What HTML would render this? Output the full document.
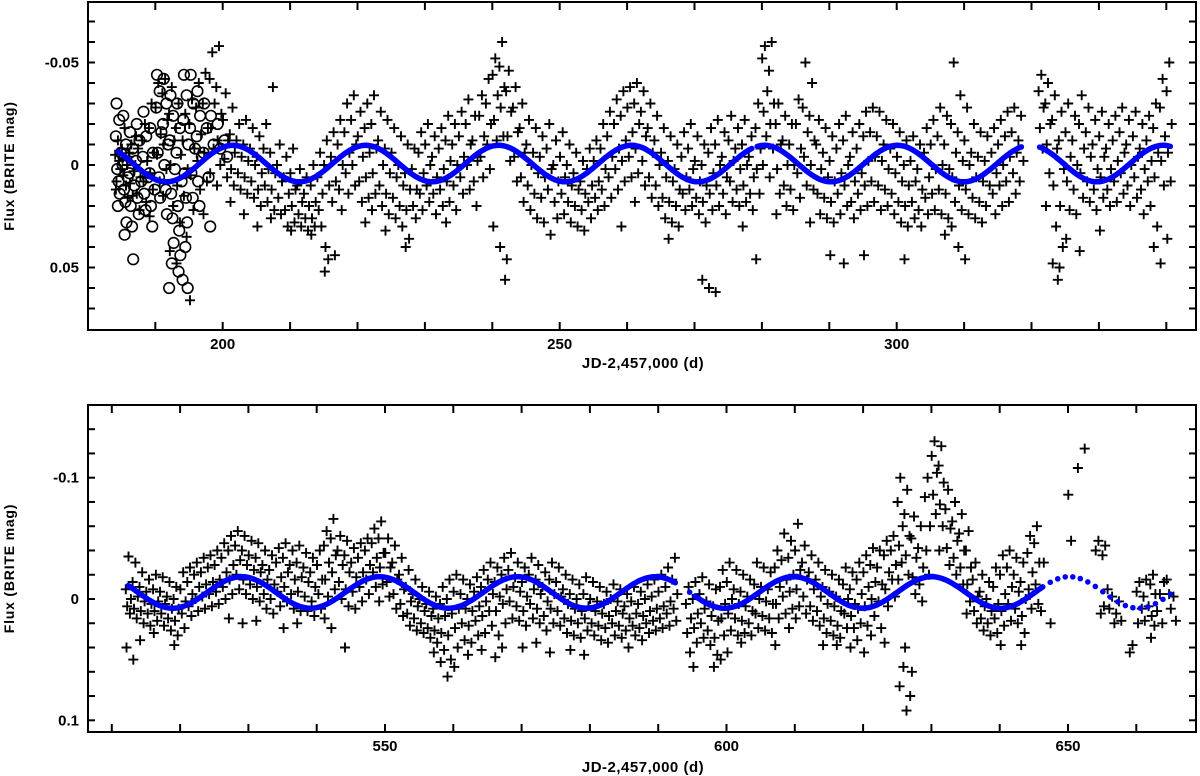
<!DOCTYPE html>
<html><head><meta charset="utf-8"><title>BRITE light curve</title>
<style>
html,body{margin:0;padding:0;background:#fff;}
svg{display:block;}
text{font-family:"Liberation Sans",sans-serif;font-weight:bold;fill:#000;}
</style></head>
<body>
<svg id="chart" width="1200" height="776" viewBox="0 0 1200 776" xmlns="http://www.w3.org/2000/svg">
  <g id="top-panel"></g>
  <g id="bottom-panel"></g>
</svg>
<script>
// ===== Data: top panel (JD-2457000, mag in mmag) =====
const topNightT = [184,185,186,187,188,189,190,191,192,193,194,195,196,197,198,199,200,201,202,203,204,205,206,207,208,209,210,211,212,213,214,215,216,217,218,219,220,221,222,223,224,225,226,227,228,229,230,231,232,233,234,235,236,237,238,239,240,241,242,243,244,245,246,247,248,249,250,251,252,253,254,255,256,257,258,259,260,261,262,263,264,265,266,267,268,269,270,271,272,273,274,275,276,277,278,279,280,281,282,283,284,285,286,287,288,289,290,291,292,293,294,295,296,297,298,299,300,301,302,303,304,305,306,307,308,309,310,311,312,313,314,315,316,317,318,321,322,323,324,325,326,327,328,329,330,331,332,333,334,335,336,337,338,339,340];
const topNightMags = [
[-12,-5,2,8,-2,12],[-18,-8,0,5,10,-3,16],[-10,-4,3,9,15,-6],[-8,0,6,14,22,-14],[-20,-12,-2,8,18],[-30,-18,-6,4,12,25],[-40,-28,-15,-5,8],[-42,-35,-22,-10,2,15],[-38,-25,-12,0,20,42],[-30,-18,-5,10,28,48],
[-25,-12,2,15,35],[-32,-20,-8,5,22,66],[-40,-28,-15,-2,12],[-45,-30,-18,-6,8,24],[-55,-42,-30,-18,-8,4],[-58,-38,-25,-12,0,10],[-35,-22,-12,-3,6],[-28,-15,-6,2,10,18],[-20,-12,-4,4,12],[-22,-10,-2,6,14,24],
[-18,-8,0,8,16],[-14,-4,4,12,20,30],[-20,-8,2,10,18],[-38,-6,4,12,22,26],[-10,0,8,16,24],[-4,6,14,22,30],[-8,4,12,20,28,32],[2,10,18,24,30],[6,14,20,26,32],[0,10,18,26,30,34],
[-6,6,14,22,30],[-12,0,10,40,46,52],[-16,-4,8,18,44],[-22,-10,0,12,22],[-30,-16,-6,4,14],[-34,-22,-10,0,10],[-26,-14,-4,8,18],[-30,-18,-6,6,16,28],[-34,-20,-8,4,14,22],[-26,-12,0,10,20],
[-22,-8,4,14,24,32],[-18,-6,6,16,26],[-14,0,10,20,30],[-10,4,12,22,36,40],[-8,2,12,20,26],[-16,-6,4,14,22],[-20,-10,0,10,18],[-14,-4,6,14,24],[-18,-8,2,12,20],[-24,-12,-2,8,18,28],
[-20,-10,0,10,22],[-26,-14,-4,6,14],[-32,-20,-10,0,12],[-24,-12,-2,8,20],[-34,-24,-14,-4,6],[-42,-30,-20,-10,2],[-52,-44,-34,-22,-12,30],[-60,-48,-38,-28,-14,40,56],[-46,-36,-26,-14,-2,46],[-38,-28,-16,-4,8],
[-30,-18,-6,6,18],[-22,-10,0,10,22],[-18,-6,4,14,26],[-14,-4,6,16,28],[-20,-8,2,12,34],[-12,0,8,18,26],[-16,-4,6,14,24],[-10,0,10,18,28],[-6,4,12,20,30],[-2,8,14,22,32],
[-8,2,10,18,26],[-12,-2,8,16,22],[-20,-8,2,12,20],[-26,-14,-4,6,16],[-32,-20,-8,2,12],[-36,-24,-12,-2,8,30],[-38,-28,-16,-4,6],[-40,-30,-20,-8,4,18],[-36,-26,-14,-2,10],[-30,-18,-6,6,16],
[-24,-12,0,10,20],[-18,-6,6,16,26],[-14,-2,8,18,28,36],[-10,2,12,20,30],[-16,-4,6,14,22],[-20,-8,2,12,20],[-14,-2,8,16,24],[-10,0,10,18,28,56],[-18,-6,4,14,22,60],[-22,-10,0,10,20,62],
[-16,-4,6,14,24],[-24,-12,-2,8,18],[-18,-8,2,12,20],[-22,-10,0,10,18,30],[-14,-4,6,14,22],[-30,-18,-8,2,14,46],[-58,-52,-36,-26,-14,0],[-60,-46,-30,-20,-8,6],[-30,-20,-10,2,14,24],[-24,-12,0,10,20],
[-20,-10,0,12,22],[-32,-20,-8,4,16],[-50,-28,-16,-4,10],[-40,-24,-12,0,12,28],[-22,-10,2,14,24],[-18,-6,6,16,26],[-14,-2,8,18,28,44],[-20,-8,4,14,24],[-24,-12,0,10,20,48],[-16,-4,8,18,26],
[-20,-8,4,14,22],[-26,-14,-2,10,20,44],[-28,-16,-4,8,18],[-26,-14,-2,10,22],[-22,-10,2,12,20],[-20,-8,4,14,24],[-16,-4,8,18,28],[-12,0,10,20,30,46],[-14,-2,8,18,26],[-10,2,12,22,30],
[-18,-6,6,16,24],[-22,-10,2,14,22],[-28,-14,0,12,24],[-24,-10,2,14,26,34],[-50,-20,-6,6,18,30],[-34,-16,-2,10,22,40],[-28,-12,0,12,24,46],[-20,-6,6,16,26],[-16,-4,8,18,28],[-14,-2,10,20],
[-18,-6,4,14,24],[-22,-10,0,10,20],[-26,-14,-4,8,18],[-28,-16,-6,4,14],[-24,-12,-2,8],[-44,-36,-28,-18,-8],[-40,-30,-20,-10,4,20],[-34,-22,-8,10,30,48,56],[-26,-12,2,20,40,50],[-30,-16,-4,8,22,36],
[-24,-12,0,12,24],[-34,-20,-8,4,16,42],[-28,-16,-4,8,18],[-22,-10,2,12,22],[-26,-14,-4,6,16,32],[-20,-8,2,12,20],[-24,-12,-2,8,18],[-28,-16,-6,4,14],[-22,-10,0,10,20],[-26,-14,-4,6,16],
[-20,-8,2,12,24],[-24,-12,-2,8,20],[-30,-18,-6,6,30,40],[-42,-28,-14,-2,10,48],[-50,-36,-20,-6,8,36]
];
// open circles (alternate setup) in top panel
const openNightT = [184,185,186,187,188,189,190,191,192,193,194,195,196,197,198,199,200];
const openNightMags = [
[-30,-22,-14,-6,2,8,14,20],[-24,-10,0,6,12,18,28,34],[-16,-8,4,10,20,30,46],[-20,-12,-2,8,16,24],[-26,-14,-4,6,14,22],[-18,-6,4,12,20,30],[-44,-36,-28,-16,-6,6,16],[-42,-30,-20,-10,0,12,24],[-34,-24,-12,2,14,26,38,48,60],[-30,-18,-6,8,20,32,44,52],
[-44,-34,-22,-10,4,16,28,40,56,60],[-44,-30,-18,-8,4,16],[-36,-24,-14,-4,8,20],[-30,-18,-6,6],[-24,-10,30],[-20,-8],[-12,-4]
];
// ===== Data: bottom panel =====
const botNightT = [512,513,514,515,516,517,518,519,520,521,522,523,524,525,526,527,528,529,530,531,532,533,534,535,536,537,538,539,540,541,542,543,544,545,546,547,548,549,550,551,552,553,554,555,556,557,558,559,560,561,562,563,564,565,566,567,568,569,570,571,572,573,574,575,576,577,578,579,580,581,582,583,584,585,586,587,588,589,590,591,592,594,595,596,597,598,599,600,601,602,603,604,605,606,607,608,609,610,611,612,613,614,615,616,617,618,619,620,621,622,623,624,625,626,627,628,629,630,631,632,633,634,635,636,637,638,639,640,641,642,643,644,645,646,647,650,651,652,654,655,656,657,659,660,661,662,663,664,665];
const botNightMags = [
[-35,-8,0,6,12,40],[-30,-14,-2,8,16,50],[-22,-10,2,10,20,34],[-16,-6,4,12,22],[-20,-8,2,10,18,28],[-18,-6,4,12,22],[-14,-2,8,16,26],[-10,0,8,18,30,38],[-22,-8,2,12,24],[-26,-14,-4,6,14],
[-30,-20,-10,0,10],[-34,-22,-12,-2,8],[-36,-26,-14,-4,6],[-40,-28,-16,-6,4],[-46,-34,-22,-10,0],[-52,-40,-28,-16,-4,16],[-56,-44,-32,-20,-8],[-52,-40,-28,-16,-4,20],[-48,-36,-24,-12,0],[-46,-34,-22,-10,2,18],
[-40,-28,-16,-4,8],[-36,-24,-12,0,12],[-42,-30,-18,-6,6],[-46,-34,-22,-10,2,24],[-40,-28,-16,-4,8],[-44,-30,-18,-6,10,20],[-38,-26,-14,-2,10],[-34,-22,-10,2,14],[-40,-28,-16,-4,8],[-56,-44,-30,-16,-2,16],
[-66,-50,-36,-22,-8,24],[-52,-40,-28,-14,0],[-48,-36,-22,-8,6,40],[-42,-30,-18,-6,8],[-46,-34,-22,-10,2],[-50,-40,-28,-16,-4],[-58,-46,-34,-22,-10],[-64,-50,-38,-26,-12,2],[-50,-38,-26,-14,-2],[-44,-30,-16,-4,8],
[-34,-20,-8,4,14],[-24,-10,2,12,22],[-16,-4,6,16,26],[-10,0,10,20,28],[-6,4,14,24,32],[-2,8,16,26,36,44],[-10,4,14,28,42,52],[-16,0,12,30,50,64],[-20,-6,8,24,40,56],[-16,-4,8,20,34],
[-12,0,10,22,36,46],[-18,-6,6,18,30],[-24,-10,2,14,28,42],[-30,-16,-4,10,22],[-26,-14,-2,10,30,48],[-34,-20,-8,4,20,40],[-38,-24,-10,2,16],[-30,-18,-6,6,18],[-26,-14,-2,10,22,40],[-34,-20,-8,4,16],
[-28,-16,-4,8,20,36],[-22,-10,2,14,26],[-30,-16,-4,8,20,44],[-26,-14,-2,10,22],[-20,-8,4,16,28],[-16,-4,8,18,30,42],[-12,0,10,20,32],[-18,-4,6,16,26,46],[-14,0,10,20,30],[-10,2,12,22,34],
[-6,4,14,24,36],[-12,0,10,20,30],[-8,2,12,22,32],[-4,6,16,26,40],[-10,2,12,22,30],[-6,4,14,24,34],[-12,0,10,20,28],[-16,-2,8,18,26],[-20,-6,6,16,24],[-26,-10,2,12,22],
[-34,-16,-4,8,18],[-10,4,16,28,44],[-14,0,12,24,36,56],[-18,-4,8,20,32],[-12,2,14,26,38],[-8,6,18,32,46,56],[-24,-10,4,16,30,50],[-30,-14,0,12,26,44],[-24,-8,4,16,30],[-20,-6,6,18,28,36],
[-16,-2,10,20,30],[-30,-12,0,12,24],[-26,-10,2,14,26],[-22,-8,4,16,28],[-40,-26,-10,4,16,38],[-54,-32,-16,-2,12],[-48,-34,-20,-6,8,24],[-62,-40,-24,-8,6,16],[-44,-30,-16,-2,12],[-36,-22,-8,6,18],
[-30,-16,-2,10,22],[-24,-10,4,16,28,38],[-20,-6,6,18,30],[-16,-2,10,22,32,38],[-26,-12,0,12,24],[-22,-8,4,14,24,40],[-30,-16,-4,8,20,34],[-36,-22,-10,6,22,44],[-42,-28,-14,0,14,30],[-40,-26,-12,2,24],
[-48,-36,-22,-8,6,36],[-52,-40,-28,-16,-2],[-100,-80,-60,-44,-30,-16,56,72],[-90,-70,-52,-36,-20,40,80,92],[-68,-50,-34,-18,-4,60],[-60,-42,-26,-12,2],[-100,-84,-60,-40,-20],[-130,-118,-104,-86,-70],[-126,-110,-96,-78,-60,-40],[-90,-74,-58,-42,-28],
[-80,-64,-48,-34,-20],[-70,-54,-40,-26,-12],[-56,-40,-26,-12,2,12],[-30,-16,-2,10,20],[-20,-6,6,16,26],[-14,0,10,20,30],[-26,-10,4,16,28],[-36,-20,-4,10,22,38],[-40,-26,-10,4,18],[-34,-20,-6,8,20],
[-30,-14,0,14,28,38],[-52,-38,-22,-8,8],[-60,-46,-30,-12,4],[-30,10],[20],[-48,-86],[-108],[-124],[-48,-40,12],[-44,-36,-8,6],
[-2,8,20],[2,12,18],[38,44],[-14,-6,8,20],[-16,-2,6,18],[-20,-12,-4,14,22,32],[-4,10,20],[-16,-14,-4],[-2,8,18]
];
// ===== Sinusoid model fits (period d, amplitude mag, offset mag, epoch of max brightness) =====
const topModel = [19.72, 0.0089, -0.0007, 201.5];
const botModel = [20.2, 0.013, -0.0054, 529.0];
const topSegments = [[184.5,278.5],[279.3,318.5],[321.2,340.6]];
const topDotted = [];
const botSegments = [[512.4,520.6],[520.9,592.5],[595.4,618.8],[619.5,628.0],[628.3,646.3]];
const botDotted = [[594.6,594.7],[646.3,665.2]];
// ticks
const topXTicks = [190,200,210,220,230,240,250,260,270,280,290,300,310,320,330,340];
const topXLabels = [200,250,300];
const topYTicks = [-0.07,-0.06,-0.05,-0.04,-0.03,-0.02,-0.01,0,0.01,0.02,0.03,0.04,0.05,0.06,0.07];
const topYLabels = ["-0.05","0","0.05"];
const botXTicks = [510,520,530,540,550,560,570,580,590,600,610,620,630,640,650,660];
const botXLabels = [550,600,650];
const botYTicks = [-0.14,-0.12,-0.1,-0.08,-0.06,-0.04,-0.02,0,0.02,0.04,0.06,0.08,0.1];
const botYLabels = ["-0.1","0","0.1"];

const NS = "http://www.w3.org/2000/svg";
function mk(tag, attrs, parent){
  const e = document.createElementNS(NS, tag);
  for (const k in attrs) e.setAttribute(k, attrs[k]);
  parent.appendChild(e);
  return e;
}
// spread order within a night (scrambled so points don't form diagonal stripes)
const spreadOrder = [0.45,0.05,0.8,0.25,0.65,0.15,0.9,0.35,0.55,0.72];

function drawPanel(g, cfg){
  const X = t => cfg.x0 + (t - cfg.t0) * cfg.pxPerDay;
  const Y = m => cfg.yZero + m * cfg.pxPerMag;
  const fr = mk('rect', {x:cfg.left, y:cfg.top, width:cfg.right-cfg.left, height:cfg.bottom-cfg.top, fill:'none', stroke:'#000', 'stroke-width':2}, g);
  
  
  const xt = mk('g', {}, g);
  
  
  cfg.xTicks.forEach(t => {
    const x = X(t);
    mk('line', {x1:x, x2:x, y1:cfg.bottom, y2:cfg.bottom-8, stroke:'#000','stroke-width':2}, xt);
    mk('line', {x1:x, x2:x, y1:cfg.top, y2:cfg.top+8, stroke:'#000','stroke-width':2}, xt);
  });
  cfg.xLabels.forEach(t => {
    const tx = mk('text', {x:X(t), y:cfg.bottom+19, 'text-anchor':'middle', 'font-size':15}, g);
    tx.textContent = t;
    
    
  });
  const yt = mk('g', {}, g);
  
  
  cfg.yTicks.forEach(m => {
    const y = Y(m);
    mk('line', {x1:cfg.left, x2:cfg.left+7, y1:y, y2:y, stroke:'#000','stroke-width':2}, yt);
    mk('line', {x1:cfg.right, x2:cfg.right-7, y1:y, y2:y, stroke:'#000','stroke-width':2}, yt);
  });
  cfg.yLabels.forEach(s => {
    const tx = mk('text', {x:cfg.left-9, y:Y(parseFloat(s))+5, 'text-anchor':'end', 'font-size':15}, g);
    tx.textContent = s;
    
    
  });
  const xtTitle = mk('text', {x:643, y:cfg.xTitleY, 'text-anchor':'middle', 'font-size':15, 'letter-spacing':'0.5'}, g);
  xtTitle.textContent = 'JD-2,457,000 (d)';
  
  
  const cy = (cfg.top + cfg.bottom)/2;
  const ytTitle = mk('text', {x:14, y:cy, 'text-anchor':'middle', 'font-size':14, 'letter-spacing':'0.8', transform:`rotate(-90 14 ${cy})`}, g);
  ytTitle.textContent = 'Flux (BRITE mag)';
  
  

  const cg = mk('g', {stroke:'#000', 'stroke-width':1.9, fill:'none'}, g);
  
  
  let d = '';
  cfg.nightT.forEach((t, i) => {
    const ms = cfg.nightMags[i];
    ms.forEach((mm, k) => {
      const x = X(t + spreadOrder[k % spreadOrder.length]);
      const y = Y(mm / 1000);
      d += `M${(x-5).toFixed(1)} ${y.toFixed(1)}h10M${x.toFixed(1)} ${(y-5).toFixed(1)}v10`;
    });
  });
  mk('path', {d:d}, cg);

  if (cfg.openT){
    const og = mk('g', {stroke:'#000', 'stroke-width':1.6, fill:'none'}, g);
    
    
    cfg.openT.forEach((t, i) => {
      const ms = cfg.openMags[i];
      ms.forEach((mm, k) => {
        mk('circle', {cx:X(t + spreadOrder[(k+3) % spreadOrder.length]), cy:Y(mm/1000), r:5.3}, og);
      });
    });
  }

  const [P, A, C, T0] = cfg.model;
  const model = t => C - A * Math.cos(2*Math.PI*(t - T0)/P);
  const mg = mk('g', {}, g);
  
  
  cfg.segments.forEach(([a, b]) => {
    let pts = [];
    for (let t = a; t <= b + 1e-6; t += 0.25) pts.push(`${X(t).toFixed(1)},${Y(model(t)).toFixed(1)}`);
    pts.push(`${X(b).toFixed(1)},${Y(model(b)).toFixed(1)}`);
    mk('polyline', {points:pts.join(' '), fill:'none', stroke:'#0000ff', 'stroke-width':5.5, 'stroke-linecap':'round'}, mg);
  });
  cfg.dotted.forEach(([a, b]) => {
    for (let t = a; t <= b + 1e-6; t += 1.1) mk('circle', {cx:X(t), cy:Y(model(t)), r:2.8, fill:'#0000ff'}, mg);
  });
}

drawPanel(document.getElementById('top-panel'), {
  prefix:'top', left:88, right:1196, top:2, bottom:330,
  t0:200, x0:222.7, pxPerDay:6.74, yZero:165, pxPerMag:2050,
  xTicks:topXTicks, xLabels:topXLabels, yTicks:topYTicks, yLabels:topYLabels, xTitleY:368,
  nightT:topNightT, nightMags:topNightMags, openT:openNightT, openMags:openNightMags,
  model:topModel, segments:topSegments, dotted:topDotted
});
drawPanel(document.getElementById('bottom-panel'), {
  prefix:'bottom', left:88, right:1196, top:405, bottom:732,
  t0:650, x0:1068, pxPerDay:6.83, yZero:599, pxPerMag:1213,
  xTicks:botXTicks, xLabels:botXLabels, yTicks:botYTicks, yLabels:botYLabels, xTitleY:772,
  nightT:botNightT, nightMags:botNightMags, openT:null, openMags:null,
  model:botModel, segments:botSegments, dotted:botDotted
});
</script>
</body></html>
